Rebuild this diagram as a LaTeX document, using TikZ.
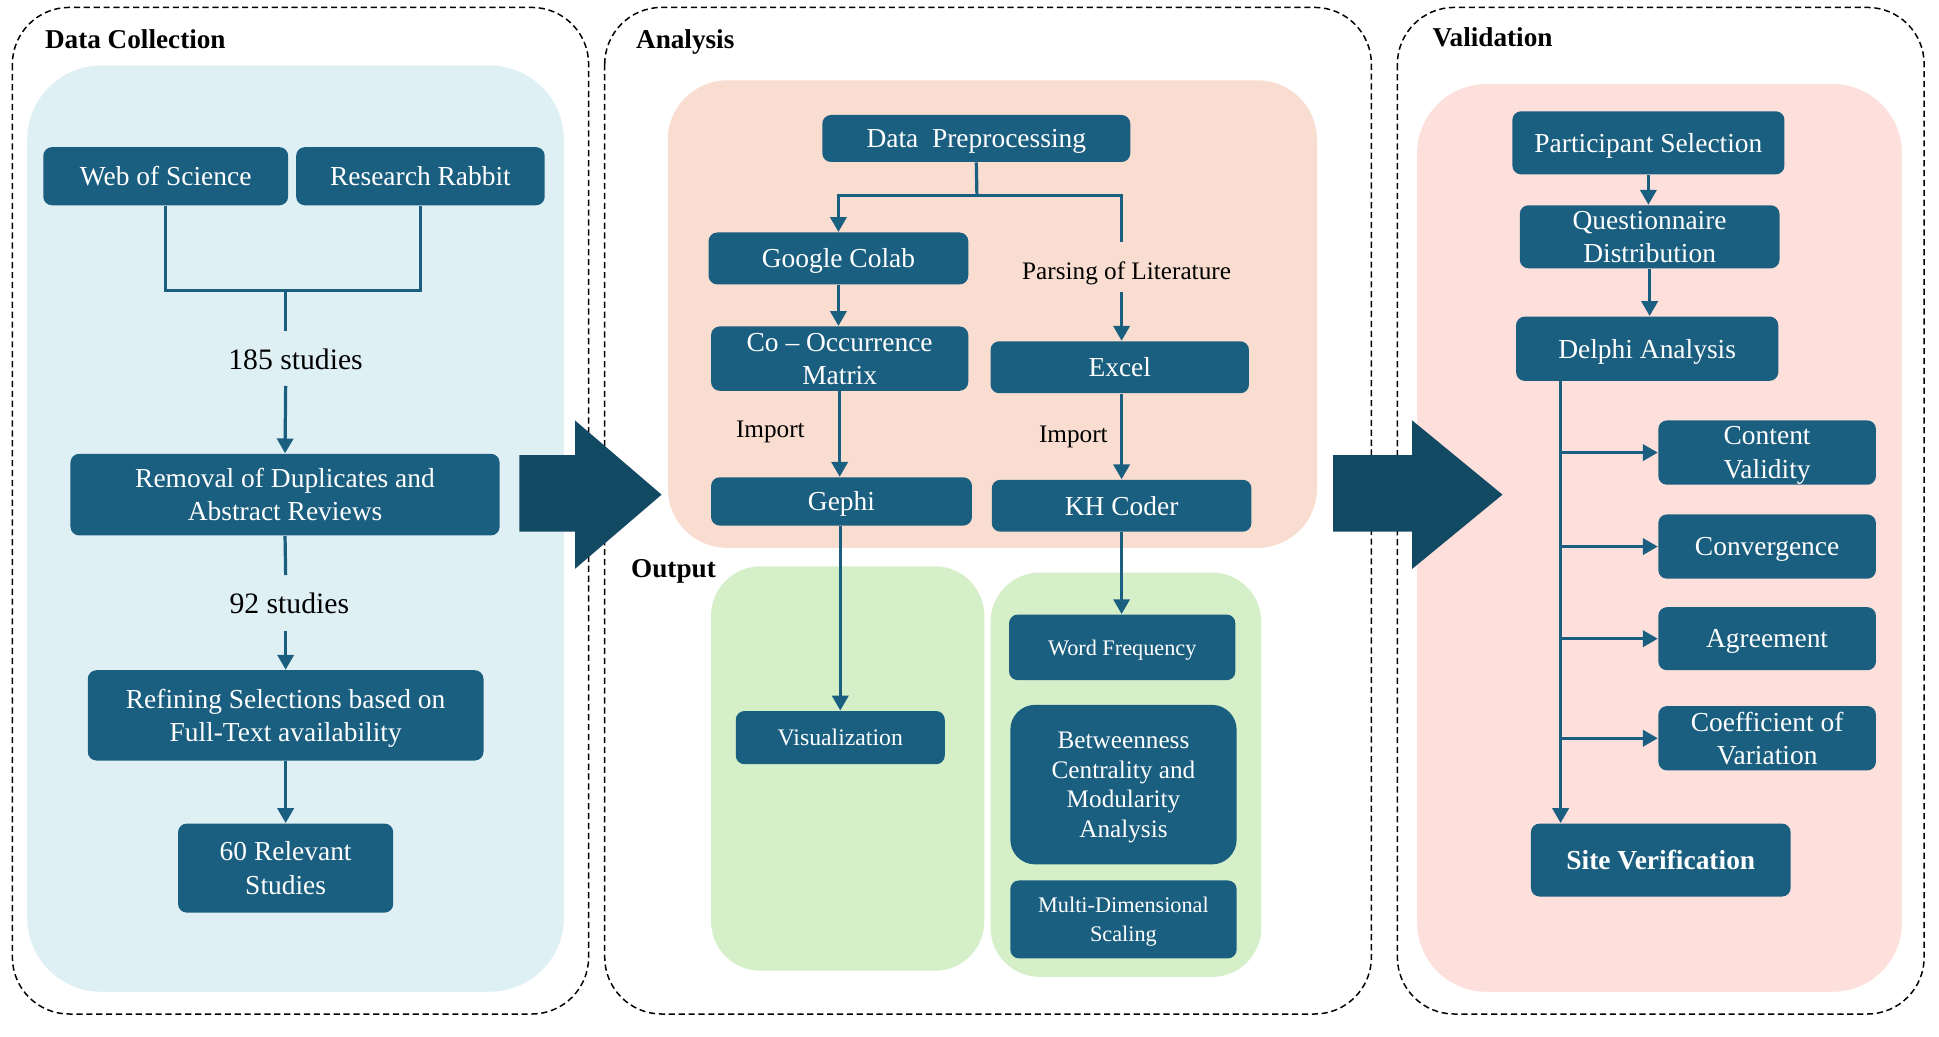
\documentclass[tikz,border=0pt]{standalone}
\usepackage{fontspec}
\setmainfont{Liberation Serif}
\usetikzlibrary{arrows.meta}
\definecolor{boxc}{HTML}{1B5F80}
\definecolor{arrc}{HTML}{134A63}
\definecolor{bluebg}{HTML}{DFF0F5}
\definecolor{peachbg}{HTML}{F9DDD0}
\definecolor{greenbg}{HTML}{D5EFC9}
\definecolor{pinkbg}{HTML}{FDDFDC}
\begin{document}
\begin{tikzpicture}[x=0.5pt,y=-0.5pt,
  box/.style={fill=boxc, text=white, rounded corners=3.5pt, align=center, inner sep=0pt, font=\fontsize{11.1}{13.5}\selectfont, text depth=-1.1pt},
  smallbox/.style={box, font=\fontsize{9}{11.5}\selectfont, text depth=-0.6pt},
  conn/.style={draw=boxc, line width=1.3pt},
  arr/.style={conn, -{Triangle[length=6pt,width=6.5pt]}},
  outer/.style={draw=black, dash pattern=on 2.5pt off 1.5pt, line width=0.6pt, rounded corners=23pt},
  title/.style={font=\fontsize{11}{13}\selectfont\bfseries, anchor=west, inner sep=0pt},
  lbl/.style={font=\fontsize{12}{14}\selectfont, inner sep=0pt},
  sml/.style={font=\fontsize{10.2}{12}\selectfont, inner sep=0pt}
]
\useasboundingbox (0,0) rectangle (1568,838);
\fill[white] (0,0) rectangle (1568,838);

% outer dashed panels
\draw[outer] (10,6) rectangle (476,820);
\draw[outer] (489,6) rectangle (1109,820);
\draw[outer] (1130,6) rectangle (1556,820);

% coloured backgrounds
\fill[bluebg, rounded corners=30pt] (22,53) rectangle (456,802);
\fill[peachbg, rounded corners=24pt] (540,65) rectangle (1065,443);
\fill[greenbg, rounded corners=20pt] (575,458) rectangle (796,785);
\fill[greenbg, rounded corners=20pt] (801,463) rectangle (1020,790);
\fill[pinkbg, rounded corners=28pt] (1146,68) rectangle (1538,802);

% titles
\node[title] (tdc) at (36,32) {Data Collection};
\node[title] (tan) at (514,34) {Analysis};
\node[title] (tout) at (510,462) {Output};
\node[title] (tval) at (1158,30) {Validation};

% big arrows
\fill[arrc] (420,368) -- (465,368) -- (465,340) -- (535,400) -- (465,460) -- (465,430) -- (420,430) -- cycle;
\fill[arrc] (1078,368) -- (1142,368) -- (1142,340) -- (1215,400) -- (1142,460) -- (1142,430) -- (1078,430) -- cycle;

% ---------- Data collection ----------
\node[box, minimum width=99pt, minimum height=23.5pt] (wos) at (134,142.5) {Web of Science};
\node[box, minimum width=100.5pt, minimum height=23.5pt] (rr) at (340,142.5) {Research Rabbit};
\node[box, minimum width=173.5pt, minimum height=33pt] (rem) at (230.5,400) {Removal of Duplicates and\\Abstract Reviews};
\node[box, minimum width=160pt, minimum height=36.5pt] (ref) at (231,578.5) {Refining Selections based on\\Full-Text availability};
\node[box, minimum width=87pt, minimum height=36pt] (rel) at (231,702) {60 Relevant\\Studies};
\node[lbl] (s185) at (239,291) {185 studies};
\node[lbl] (s92) at (234,488) {92 studies};

\coordinate (j1) at (231,235);
\coordinate (j1e) at (231,268);
\coordinate (j2) at (231,312);
\coordinate (j3) at (231,465);
\coordinate (j4) at (231,510);
\draw[conn] (wos.south) -- (wos.south |- j1) -- (rr.south |- j1) -- (rr.south);
\draw[conn] (j1) -- (j1e);
\draw[arr] (j2) -- (rem.north);
\draw[conn] (rem.south) -- (j3);
\draw[arr] (j4) -- (ref.north);
\draw[arr] (ref.south) -- (rel.north);

% ---------- Analysis ----------
\node[box, minimum width=124.5pt, minimum height=19pt] (dp) at (789.5,112) {Data\ \ Preprocessing};
\node[box, minimum width=105pt, minimum height=21pt] (gc) at (678,209) {Google Colab};
\node[box, minimum width=104pt, minimum height=26pt] (com) at (679,290) {Co -- Occurrence\\Matrix};
\node[box, minimum width=105.5pt, minimum height=19.5pt] (geph) at (680.5,405.5) {Gephi};
\node[box, minimum width=104.5pt, minimum height=21pt] (ex) at (905.5,297) {Excel};
\node[box, minimum width=105pt, minimum height=21pt] (kh) at (907,409) {KH Coder};
\node[sml] (pl) at (911,221) {Parsing of Literature};
\node[sml] (imp1) at (623,349) {Import};
\node[sml] (imp2) at (868,353) {Import};

\coordinate (dpj) at (790,158);
\coordinate (plt) at (907,196);
\coordinate (plb) at (907,236);
\draw[conn] (dp.south) -- (dpj);
\draw[arr] (dpj) -| (gc.north);
\draw[conn] (dpj) -| (plt);
\draw[arr] (plb) -- (plb |- ex.north);
\draw[arr] (gc.south) -- (gc.south |- com.north);
\draw[arr] (com.south) -- (com.south |- geph.north);
\draw[arr] (ex.south -| kh.north) -- (kh.north);

% ---------- Output ----------
\node[box, font=\fontsize{9.6}{11.5}\selectfont, text depth=-0.6pt, minimum width=84.5pt, minimum height=21.5pt] (vis) at (679.5,596.5) {Visualization};
\node[smallbox, minimum width=91.5pt, minimum height=26.5pt] (wf) at (907.5,523.5) {Word Frequency};
\node[box, rounded corners=10pt, font=\fontsize{10.2}{12}\selectfont, text depth=-1pt, minimum width=91.5pt, minimum height=64.5pt] (btw) at (908.5,634.5) {Betweenness\\Centrality and\\Modularity\\Analysis};
\node[smallbox, text depth=-1pt, minimum width=91.5pt, minimum height=31.5pt] (mds) at (908.5,743.5) {Multi-Dimensional\\Scaling};
\draw[arr] (geph.south -| vis.north) -- (vis.north);
\draw[arr] (kh.south) -- (kh.south |- wf.north);

% ---------- Validation ----------
\node[box, minimum width=110pt, minimum height=25.5pt] (ps) at (1333,115.5) {Participant Selection};
\node[box, minimum width=105pt, minimum height=25.5pt] (qd) at (1334,191.5) {Questionnaire\\Distribution};
\node[box, minimum width=106pt, minimum height=26pt] (da) at (1332,282) {Delphi Analysis};
\node[box, minimum width=88pt, minimum height=26pt] (cv) at (1429,366) {Content\\Validity};
\node[box, minimum width=88pt, minimum height=26pt] (conv) at (1429,442) {Convergence};
\node[box, minimum width=88pt, minimum height=25.5pt] (agr) at (1429,516.5) {Agreement};
\node[box, minimum width=88pt, minimum height=26pt] (coef) at (1429,597) {Coefficient of\\Variation};
\node[box, font=\fontsize{11.1}{13.5}\selectfont\bfseries, minimum width=105pt, minimum height=29.5pt] (sv) at (1343,695.5) {Site Verification};

\draw[arr] (ps.south) -- (ps.south |- qd.north);
\draw[arr] (qd.south) -- (qd.south |- da.north);
\coordinate (dl) at (1262,308);
\draw[arr] (dl) -- (dl |- sv.north);
\draw[arr] (dl |- cv.west) -- (cv.west);
\draw[arr] (dl |- conv.west) -- (conv.west);
\draw[arr] (dl |- agr.west) -- (agr.west);
\draw[arr] (dl |- coef.west) -- (coef.west);
\end{tikzpicture}
\end{document}
